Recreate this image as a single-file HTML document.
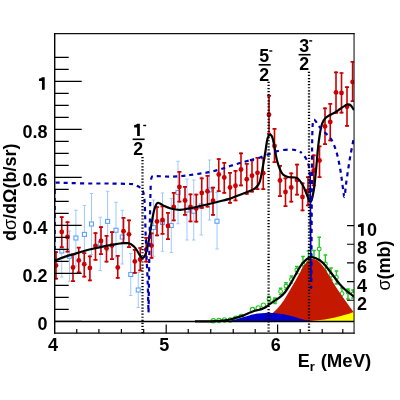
<!DOCTYPE html>
<html><head><meta charset="utf-8"><style>
html,body{margin:0;padding:0;background:#fff;}
svg{display:block;}
</style></head><body>
<div style="will-change:transform;width:400px;height:400px"><svg width="400" height="400" viewBox="0 0 400 400">
<rect width="400" height="400" fill="#fff"/>
<defs><clipPath id="c"><rect x="54.7" y="33.2" width="299.3" height="300.0"/></clipPath></defs>
<g clip-path="url(#c)">
<path d="M61.75 225V277M60.05 225h3.4M60.05 277h3.4M69.5 231V281.25M67.8 231h3.4M67.8 281.25h3.4M75.9 210.25V266M74.2 210.25h3.4M74.2 266h3.4M84.4 205.4V263.4M82.7 205.4h3.4M82.7 263.4h3.4M91.5 193.5V254.5M89.8 193.5h3.4M89.8 254.5h3.4M100.25 217.25V270.5M98.55 217.25h3.4M98.55 270.5h3.4M107.6 191.25V251M105.89999999999999 191.25h3.4M105.89999999999999 251h3.4M116 202.25V258M114.3 202.25h3.4M114.3 258h3.4M122.3 210.25V264M120.6 210.25h3.4M120.6 264h3.4M130.75 253.5V295.5M129.05 253.5h3.4M129.05 295.5h3.4M138.25 272.5V307.5M136.55 272.5h3.4M136.55 307.5h3.4M153.5 200V256.25M151.8 200h3.4M151.8 256.25h3.4M162.5 193V251.25M160.8 193h3.4M160.8 251.25h3.4M171.25 198.5V252.5M169.55 198.5h3.4M169.55 252.5h3.4M178 161.25V223.75M176.3 161.25h3.4M176.3 223.75h3.4M187 179V240M185.3 179h3.4M185.3 240h3.4M193.75 180V240M192.05 180h3.4M192.05 240h3.4M201.25 177V235M199.55 177h3.4M199.55 235h3.4M209.5 160V220M207.8 160h3.4M207.8 220h3.4M217 192.5V249M215.3 192.5h3.4M215.3 249h3.4" stroke="#9ccaff" stroke-width="1" fill="none"/>
<g fill="#fff" stroke="#5aa2ff" stroke-width="1.1"><rect x="59.75" y="249.00" width="4" height="4"/><rect x="67.50" y="254.25" width="4" height="4"/><rect x="73.90" y="236.00" width="4" height="4"/><rect x="82.40" y="232.40" width="4" height="4"/><rect x="89.50" y="222.00" width="4" height="4"/><rect x="98.25" y="241.50" width="4" height="4"/><rect x="105.60" y="219.40" width="4" height="4"/><rect x="114.00" y="228.25" width="4" height="4"/><rect x="120.30" y="235.00" width="4" height="4"/><rect x="128.75" y="272.50" width="4" height="4"/><rect x="136.25" y="288.00" width="4" height="4"/><rect x="151.50" y="225.50" width="4" height="4"/><rect x="160.50" y="220.50" width="4" height="4"/><rect x="169.25" y="223.50" width="4" height="4"/><rect x="176.00" y="190.50" width="4" height="4"/><rect x="185.00" y="208.00" width="4" height="4"/><rect x="191.75" y="209.25" width="4" height="4"/><rect x="199.25" y="204.00" width="4" height="4"/><rect x="207.50" y="188.00" width="4" height="4"/><rect x="215.00" y="219.25" width="4" height="4"/></g>
<path d="M56 251.25V279.5M61.75 216.25V248M67.5 221.25V252.5M73 253.75V282M78.75 246.9V273.1M84.25 252.25V277.5M89.9 255.6V281.25M95.5 232.25V260.6M101 226.25V255M106.5 235V262.5M112 231.25V260M117.75 255V278.75M123.5 217V243.75M129 219.6V248M134.8 249V273.7M140.2 247.2V271.2M146.2 237V262.5M151.5 232.5V258.7M157 206.25V236.25M162.5 205.5V234.6M168 212V240M173.75 192V221.25M179.4 171V202.5M185 186V215.6M190.5 193.5V222.2M196.25 193.75V222.5M201.75 177.5V208.75M207.5 175V207.5M213 186.75V215.75M218.75 158.25V192M224.25 162V193.75M230 172V203.75M235.5 170V201.25M241 152.5V186.25M246.75 163V194.75M252 159.5V192.5M257.5 157V190M263.25 157.5V190M269 95.1V134.3M274.5 128V163M280 165V197M285.5 177.5V207M291.25 172.5V202.5M297 163.75V195.5M302.5 182.5V211.25M308 176.25V206.25M313.75 154.5V186.25M319.5 145.5V178M325 107.6V145M330.25 103V141.25M336 71.6V113.6M341.5 72.2V113.5M347 86.4V126.7M352.6 61V102" stroke="#cc0000" stroke-width="1.6" fill="none"/>
<path d="M54 252.05h4M54 278.7h4M59.75 217.05h4M59.75 247.2h4M65.5 222.05h4M65.5 251.7h4M71 254.55h4M71 281.2h4M76.75 247.70000000000002h4M76.75 272.3h4M82.25 253.05h4M82.25 276.7h4M87.9 256.4h4M87.9 280.45h4M93.5 233.05h4M93.5 259.8h4M99 227.05h4M99 254.2h4M104.5 235.8h4M104.5 261.7h4M110 232.05h4M110 259.2h4M115.75 255.8h4M115.75 277.95h4M121.5 217.8h4M121.5 242.95h4M127 220.4h4M127 247.2h4M132.8 249.8h4M132.8 272.9h4M138.2 248.0h4M138.2 270.4h4M144.2 237.8h4M144.2 261.7h4M149.5 233.3h4M149.5 257.9h4M155 207.05h4M155 235.45h4M160.5 206.3h4M160.5 233.79999999999998h4M166 212.8h4M166 239.2h4M171.75 192.8h4M171.75 220.45h4M177.4 171.8h4M177.4 201.7h4M183 186.8h4M183 214.79999999999998h4M188.5 194.3h4M188.5 221.39999999999998h4M194.25 194.55h4M194.25 221.7h4M199.75 178.3h4M199.75 207.95h4M205.5 175.8h4M205.5 206.7h4M211 187.55h4M211 214.95h4M216.75 159.05h4M216.75 191.2h4M222.25 162.8h4M222.25 192.95h4M228 172.8h4M228 202.95h4M233.5 170.8h4M233.5 200.45h4M239 153.3h4M239 185.45h4M244.75 163.8h4M244.75 193.95h4M250 160.3h4M250 191.7h4M255.5 157.8h4M255.5 189.2h4M261.25 158.3h4M261.25 189.2h4M267 95.89999999999999h4M267 133.5h4M272.5 128.8h4M272.5 162.2h4M278 165.8h4M278 196.2h4M283.5 178.3h4M283.5 206.2h4M289.25 173.3h4M289.25 201.7h4M295 164.55h4M295 194.7h4M300.5 183.3h4M300.5 210.45h4M306 177.05h4M306 205.45h4M311.75 155.3h4M311.75 185.45h4M317.5 146.3h4M317.5 177.2h4M323 108.39999999999999h4M323 144.2h4M328.25 103.8h4M328.25 140.45h4M334 72.39999999999999h4M334 112.8h4M339.5 73.0h4M339.5 112.7h4M345 87.2h4M345 125.9h4M350.6 61.8h4M350.6 101.2h4" stroke="#cc0000" stroke-width="1.7" fill="none"/>
<g fill="#cc0000"><circle cx="56" cy="265.5" r="2.4"/><circle cx="61.75" cy="232" r="2.4"/><circle cx="67.5" cy="237" r="2.4"/><circle cx="73" cy="267.5" r="2.4"/><circle cx="78.75" cy="260.4" r="2.4"/><circle cx="84.25" cy="264.2" r="2.4"/><circle cx="89.9" cy="268" r="2.4"/><circle cx="95.5" cy="246" r="2.4"/><circle cx="101" cy="241" r="2.4"/><circle cx="106.5" cy="248.25" r="2.4"/><circle cx="112" cy="245.5" r="2.4"/><circle cx="117.75" cy="267.5" r="2.4"/><circle cx="123.5" cy="231.25" r="2.4"/><circle cx="129" cy="234.3" r="2.4"/><circle cx="134.8" cy="261.4" r="2.4"/><circle cx="140.2" cy="259.5" r="2.4"/><circle cx="146.2" cy="249.7" r="2.4"/><circle cx="151.5" cy="245.6" r="2.4"/><circle cx="157" cy="221.5" r="2.4"/><circle cx="162.5" cy="220" r="2.4"/><circle cx="168" cy="226" r="2.4"/><circle cx="173.75" cy="207" r="2.4"/><circle cx="179.4" cy="186.9" r="2.4"/><circle cx="185" cy="200.5" r="2.4"/><circle cx="190.5" cy="207" r="2.4"/><circle cx="196.25" cy="208.5" r="2.4"/><circle cx="201.75" cy="193" r="2.4"/><circle cx="207.5" cy="191.25" r="2.4"/><circle cx="213" cy="200.75" r="2.4"/><circle cx="218.75" cy="174.5" r="2.4"/><circle cx="224.25" cy="177.5" r="2.4"/><circle cx="230" cy="187.5" r="2.4"/><circle cx="235.5" cy="185.75" r="2.4"/><circle cx="241" cy="169.5" r="2.4"/><circle cx="246.75" cy="179.25" r="2.4"/><circle cx="252" cy="175.75" r="2.4"/><circle cx="257.5" cy="172.8" r="2.4"/><circle cx="263.25" cy="173.2" r="2.4"/><circle cx="269" cy="114.7" r="2.4"/><circle cx="274.5" cy="146" r="2.4"/><circle cx="280" cy="180.5" r="2.4"/><circle cx="285.5" cy="192" r="2.4"/><circle cx="291.25" cy="187.5" r="2.4"/><circle cx="297" cy="180" r="2.4"/><circle cx="302.5" cy="197" r="2.4"/><circle cx="308" cy="191" r="2.4"/><circle cx="313.75" cy="170.5" r="2.4"/><circle cx="319.5" cy="160.5" r="2.4"/><circle cx="325" cy="126.4" r="2.4"/><circle cx="330.25" cy="122" r="2.4"/><circle cx="336" cy="92.4" r="2.4"/><circle cx="341.5" cy="93" r="2.4"/><circle cx="347" cy="106.7" r="2.4"/><circle cx="352.6" cy="82" r="2.4"/></g>
<path d="M54.70 260.60C55.58 260.27 58.45 259.18 60.00 258.60C61.55 258.02 61.67 257.87 64.00 257.10C66.33 256.33 70.67 255.02 74.00 254.00C77.33 252.98 80.67 251.92 84.00 251.00C87.33 250.08 90.67 249.28 94.00 248.50C97.33 247.72 100.67 246.97 104.00 246.30C107.33 245.63 111.33 244.97 114.00 244.50C116.67 244.03 118.33 243.73 120.00 243.50C121.67 243.27 122.67 243.15 124.00 243.10C125.33 243.05 126.83 243.02 128.00 243.20C129.17 243.38 130.00 243.63 131.00 244.20C132.00 244.77 133.00 245.55 134.00 246.60C135.00 247.65 136.00 249.02 137.00 250.50C138.00 251.98 139.07 254.22 140.00 255.50C140.93 256.78 141.77 258.20 142.60 258.20C143.43 258.20 144.27 256.98 145.00 255.50C145.73 254.02 146.38 251.80 147.00 249.30C147.62 246.80 148.17 243.72 148.75 240.50C149.33 237.28 149.92 233.50 150.50 230.00C151.08 226.50 151.67 222.71 152.25 219.50C152.83 216.29 153.42 213.08 154.00 210.75C154.58 208.42 155.17 206.78 155.75 205.50C156.33 204.22 156.79 203.45 157.50 203.10C158.21 202.75 158.83 202.90 160.00 203.40C161.17 203.90 162.83 205.30 164.50 206.10C166.17 206.90 167.42 207.58 170.00 208.20C172.58 208.82 176.67 209.78 180.00 209.80C183.33 209.82 186.67 208.92 190.00 208.30C193.33 207.68 196.67 206.85 200.00 206.10C203.33 205.35 206.67 204.60 210.00 203.80C213.33 203.00 216.67 202.17 220.00 201.30C223.33 200.43 227.33 199.43 230.00 198.60C232.67 197.77 233.33 197.32 236.00 196.30C238.67 195.28 243.50 193.45 246.00 192.50C248.50 191.55 249.50 191.28 251.00 190.60C252.50 189.92 253.83 189.30 255.00 188.40C256.17 187.50 257.17 186.43 258.00 185.20C258.83 183.97 259.33 183.28 260.00 181.00C260.67 178.72 261.33 175.00 262.00 171.50C262.67 168.00 263.42 163.42 264.00 160.00C264.58 156.58 265.00 154.17 265.50 151.00C266.00 147.83 266.50 143.50 267.00 141.00C267.50 138.50 268.00 137.02 268.50 136.00C269.00 134.98 269.50 134.97 270.00 134.90C270.50 134.83 271.00 134.83 271.50 135.60C272.00 136.37 272.42 137.10 273.00 139.50C273.58 141.90 274.33 146.50 275.00 150.00C275.67 153.50 276.17 157.25 277.00 160.50C277.83 163.75 279.00 167.17 280.00 169.50C281.00 171.83 281.67 173.25 283.00 174.50C284.33 175.75 286.00 176.50 288.00 177.00C290.00 177.50 293.33 177.21 295.00 177.50C296.67 177.79 296.83 177.71 298.00 178.75C299.17 179.79 300.83 181.88 302.00 183.75C303.17 185.62 304.00 187.71 305.00 190.00C306.00 192.29 307.08 195.50 308.00 197.50C308.92 199.50 309.75 202.08 310.50 202.00C311.25 201.92 311.83 199.83 312.50 197.00C313.17 194.17 313.83 190.33 314.50 185.00C315.17 179.67 315.92 171.17 316.50 165.00C317.08 158.83 317.42 153.33 318.00 148.00C318.58 142.67 319.33 137.00 320.00 133.00C320.67 129.00 321.17 126.42 322.00 124.00C322.83 121.58 323.67 120.00 325.00 118.50C326.33 117.00 328.33 116.00 330.00 115.00C331.67 114.00 333.33 113.50 335.00 112.50C336.67 111.50 338.33 110.15 340.00 109.00C341.67 107.85 343.67 106.37 345.00 105.60C346.33 104.83 347.00 104.40 348.00 104.40C349.00 104.40 350.00 104.67 351.00 105.60C352.00 106.53 353.50 109.27 354.00 110.00" stroke="#000" stroke-width="2.2" fill="none" stroke-linejoin="round"/>
<path d="M269 296.5V301.5M267.2 296.5h3.6M267.2 301.5h3.6M275 298V303.5M273.2 298h3.6M273.2 303.5h3.6M280.6 288.2V294.6M278.8 288.2h3.6M278.8 294.6h3.6M286 282.8V289.2M284.2 282.8h3.6M284.2 289.2h3.6M291.4 276V283M289.59999999999997 276h3.6M289.59999999999997 283h3.6M296.8 266.5V273.5M295.0 266.5h3.6M295.0 273.5h3.6M303 256.5V270M301.2 256.5h3.6M301.2 270h3.6M308.5 251V270M306.7 251h3.6M306.7 270h3.6M314 250.5V270M312.2 250.5h3.6M312.2 270h3.6M319.2 237.2V260M317.4 237.2h3.6M317.4 260h3.6M325.4 255V271M323.59999999999997 255h3.6M323.59999999999997 271h3.6M331 268V280M329.2 268h3.6M329.2 280h3.6M336.4 271V284M334.59999999999997 271h3.6M334.59999999999997 284h3.6M342 288V299M340.2 288h3.6M340.2 299h3.6M348 289V299M346.2 289h3.6M346.2 299h3.6M353 290V298M351.2 290h3.6M351.2 298h3.6" stroke="#1ec81e" stroke-width="1.4" fill="none"/>
<g fill="#fff" stroke="#1ec81e" stroke-width="1.1"><circle cx="213.3" cy="320.8" r="2.2"/><circle cx="219" cy="320.5" r="2.2"/><circle cx="224.5" cy="320" r="2.2"/><circle cx="230.2" cy="320.1" r="2.2"/><circle cx="235.8" cy="318.2" r="2.2"/><circle cx="241.2" cy="316.4" r="2.2"/><circle cx="252.5" cy="309.6" r="2.2"/><circle cx="258.2" cy="308" r="2.2"/><circle cx="263.4" cy="305.2" r="2.2"/><circle cx="269" cy="299" r="1.9"/><circle cx="275" cy="300.5" r="1.9"/><circle cx="280.6" cy="291.4" r="1.9"/><circle cx="286" cy="286" r="1.9"/><circle cx="291.4" cy="279.5" r="1.9"/><circle cx="296.8" cy="270" r="1.9"/><circle cx="303" cy="264" r="1.9"/><circle cx="308.5" cy="263" r="1.9"/><circle cx="314" cy="263" r="1.9"/><circle cx="319.2" cy="249" r="1.9"/><circle cx="325.4" cy="264" r="1.9"/><circle cx="331" cy="275" r="1.9"/><circle cx="336.4" cy="277.4" r="1.9"/><circle cx="342" cy="293.6" r="1.9"/><circle cx="348" cy="292" r="1.9"/><circle cx="353" cy="294" r="1.9"/></g>
<path d="M272.00 313.50C272.67 312.92 274.67 311.33 276.00 310.00C277.33 308.67 278.50 307.42 280.00 305.50C281.50 303.58 283.33 301.08 285.00 298.50C286.67 295.92 288.33 292.83 290.00 290.00C291.67 287.17 293.33 284.42 295.00 281.50C296.67 278.58 298.50 275.17 300.00 272.50C301.50 269.83 302.67 267.42 304.00 265.50C305.33 263.58 306.83 262.05 308.00 261.00C309.17 259.95 310.00 259.48 311.00 259.20C312.00 258.92 312.83 259.00 314.00 259.30C315.17 259.60 316.67 260.05 318.00 261.00C319.33 261.95 320.67 263.42 322.00 265.00C323.33 266.58 324.67 268.50 326.00 270.50C327.33 272.50 328.50 274.50 330.00 277.00C331.50 279.50 333.33 282.83 335.00 285.50C336.67 288.17 338.33 290.53 340.00 293.00C341.67 295.47 343.33 297.93 345.00 300.30C346.67 302.67 348.50 305.17 350.00 307.20C351.50 309.23 353.33 311.62 354.00 312.50L354 321.3L272 321.3Z" fill="#c41800"/>
<path d="M226.00 321.40C227.00 321.22 229.67 320.83 232.00 320.30C234.33 319.77 237.00 319.05 240.00 318.20C243.00 317.35 247.00 315.97 250.00 315.20C253.00 314.43 255.50 313.98 258.00 313.60C260.50 313.22 262.67 313.02 265.00 312.90C267.33 312.78 269.50 312.75 272.00 312.90C274.50 313.05 277.50 313.45 280.00 313.80C282.50 314.15 284.50 314.47 287.00 315.00C289.50 315.53 292.50 316.30 295.00 317.00C297.50 317.70 299.83 318.60 302.00 319.20C304.17 319.80 306.33 320.23 308.00 320.60C309.67 320.97 311.33 321.27 312.00 321.40Z" fill="#0000c8"/>
<path d="M300.00 321.30C301.67 321.23 306.67 321.12 310.00 320.90C313.33 320.68 316.67 320.42 320.00 320.00C323.33 319.58 326.67 319.03 330.00 318.40C333.33 317.77 337.00 316.93 340.00 316.20C343.00 315.47 345.67 314.70 348.00 314.00C350.33 313.30 353.00 312.33 354.00 312.00L354 321.3Z" fill="#ffff00"/>
<path d="M55.60 182.60C55.92 182.60 55.10 182.53 57.50 182.60C59.90 182.67 64.58 182.85 70.00 183.00C75.42 183.15 83.33 183.42 90.00 183.50C96.67 183.58 103.33 183.42 110.00 183.50C116.67 183.58 126.00 183.83 130.00 184.00C134.00 184.17 132.67 184.12 134.00 184.50C135.33 184.88 136.83 185.63 138.00 186.30C139.17 186.97 140.08 187.38 141.00 188.50C141.92 189.62 142.87 190.25 143.50 193.00C144.13 195.75 144.47 198.83 144.80 205.00C145.13 211.17 145.22 221.67 145.50 230.00C145.78 238.33 146.12 245.83 146.50 255.00C146.88 264.17 147.48 275.92 147.80 285.00C148.12 294.08 148.27 305.42 148.40 309.50C148.53 313.58 148.52 313.58 148.60 309.50C148.68 305.42 148.78 294.08 148.90 285.00C149.02 275.92 149.17 264.17 149.30 255.00C149.43 245.83 149.53 239.17 149.70 230.00C149.87 220.83 150.12 207.83 150.30 200.00C150.48 192.17 150.72 185.83 150.80 183.00" stroke="#0000b4" stroke-width="2.2" stroke-dasharray="4.1 4.05" stroke-dashoffset="0" fill="none"/>
<path d="M150.80 183.00C150.90 182.17 151.03 179.17 151.40 178.00C151.77 176.83 152.07 176.32 153.00 176.00C153.93 175.68 154.17 176.00 157.00 176.10C159.83 176.20 165.83 176.62 170.00 176.60C174.17 176.58 178.67 176.27 182.00 176.00C185.33 175.73 187.00 175.40 190.00 175.00C193.00 174.60 196.67 174.10 200.00 173.60C203.33 173.10 206.67 172.70 210.00 172.00C213.33 171.30 216.67 170.40 220.00 169.40C223.33 168.40 226.67 167.07 230.00 166.00C233.33 164.93 236.67 163.97 240.00 163.00C243.33 162.03 248.33 160.67 250.00 160.20" stroke="#0000b4" stroke-width="2.2" stroke-dasharray="4.1 4.05" stroke-dashoffset="4.8" fill="none"/>
<path d="M250.00 160.20C251.67 159.75 256.67 158.57 260.00 157.50C263.33 156.43 266.67 154.92 270.00 153.75C273.33 152.58 276.67 151.21 280.00 150.50C283.33 149.79 287.50 149.58 290.00 149.50C292.50 149.42 293.33 149.67 295.00 150.00C296.67 150.33 299.17 151.25 300.00 151.50" stroke="#0000b4" stroke-width="2.2" stroke-dasharray="4.3 4.4" stroke-dashoffset="0" fill="none"/>
<path d="M300.00 151.50C300.50 152.00 302.00 153.33 303.00 154.50C304.00 155.67 305.12 156.92 306.00 158.50C306.88 160.08 307.70 161.75 308.30 164.00C308.90 166.25 309.27 167.67 309.60 172.00C309.93 176.33 310.12 180.33 310.30 190.00C310.48 199.67 310.58 214.75 310.70 230.00C310.82 245.25 310.90 272.92 311.00 281.50C311.10 290.08 311.20 290.08 311.30 281.50C311.40 272.92 311.50 246.92 311.60 230.00C311.70 213.08 311.80 195.00 311.90 180.00C312.00 165.00 312.05 149.50 312.20 140.00C312.35 130.50 312.50 126.40 312.80 123.00C313.10 119.60 313.38 119.72 314.00 119.60C314.62 119.48 315.67 121.18 316.50 122.30C317.33 123.42 317.65 124.63 319.00 126.30C320.35 127.97 322.53 130.10 324.60 132.30C326.67 134.50 329.50 136.47 331.40 139.50C333.30 142.53 334.68 146.42 336.00 150.50C337.32 154.58 338.38 159.50 339.30 164.00C340.22 168.50 340.83 173.00 341.50 177.50C342.17 182.00 342.85 187.80 343.30 191.00C343.75 194.20 343.92 196.20 344.20 196.70C344.48 197.20 344.70 196.07 345.00 194.00C345.30 191.93 345.45 188.55 346.00 184.30C346.55 180.05 347.55 173.38 348.30 168.50C349.05 163.62 349.55 160.25 350.50 155.00C351.45 149.75 353.42 140.00 354.00 137.00" stroke="#0000b4" stroke-width="2.2" stroke-dasharray="4.1 4.05" stroke-dashoffset="1.5" fill="none"/>
<path d="M55.0 250V186" stroke="#0000b4" stroke-width="1.6" stroke-dasharray="4 4" fill="none"/>
<path d="M310.2 175C310.5 200 310.8 240 311.0 281.5" stroke="#0000b4" stroke-width="1.6" fill="none"/>
<path d="M195.00 321.40C196.67 321.39 201.67 321.40 205.00 321.35C208.33 321.30 211.67 321.28 215.00 321.10C218.33 320.93 222.50 320.57 225.00 320.30C227.50 320.03 227.50 320.12 230.00 319.50C232.50 318.88 237.50 317.38 240.00 316.60C242.50 315.82 243.33 315.47 245.00 314.80C246.67 314.13 248.50 313.23 250.00 312.60C251.50 311.97 252.67 311.43 254.00 311.00C255.33 310.57 256.67 310.35 258.00 310.00C259.33 309.65 260.67 309.40 262.00 308.90C263.33 308.40 264.67 307.85 266.00 307.00C267.33 306.15 268.50 304.90 270.00 303.80C271.50 302.70 273.33 301.50 275.00 300.40C276.67 299.30 278.33 298.55 280.00 297.20C281.67 295.85 283.33 294.40 285.00 292.30C286.67 290.20 288.33 287.35 290.00 284.60C291.67 281.85 293.33 278.77 295.00 275.80C296.67 272.83 298.33 269.30 300.00 266.80C301.67 264.30 303.67 262.22 305.00 260.80C306.33 259.38 307.17 258.88 308.00 258.30C308.83 257.72 309.17 257.47 310.00 257.30C310.83 257.13 312.00 257.13 313.00 257.30C314.00 257.47 314.83 257.77 316.00 258.30C317.17 258.83 318.50 259.38 320.00 260.50C321.50 261.62 323.33 263.17 325.00 265.00C326.67 266.83 328.33 269.33 330.00 271.50C331.67 273.67 333.33 275.83 335.00 278.00C336.67 280.17 338.33 282.58 340.00 284.50C341.67 286.42 343.33 287.98 345.00 289.50C346.67 291.02 348.50 292.43 350.00 293.60C351.50 294.77 353.33 296.02 354.00 296.50" stroke="#000" stroke-width="2.2" fill="none"/>
</g>
<path d="M142.5 157V333 M268.6 81.8V333 M309.0 71.8V333 " stroke="#000" stroke-width="2.3" stroke-dasharray="1.2 1.87" fill="none"/>
<path d="M54.7 321.4H354.0" stroke="#000" stroke-width="1.5"/>
<path d="M54.050000000000004 33.6H354.5" stroke="#111" stroke-width="1.2" fill="none"/>
<path d="M354.05 33.0V333.8" stroke="#000" stroke-width="1.0" fill="none"/>
<path d="M54.7 33.0V333.8" stroke="#000" stroke-width="1.4" fill="none"/>
<path d="M54.0 333.2H354.6" stroke="#000" stroke-width="1.3" fill="none"/>
<path d="M54.7 321.30h27 M54.7 309.30h14 M54.7 297.30h14 M54.7 285.30h14 M54.7 273.30h27 M54.7 261.30h14 M54.7 249.30h14 M54.7 237.30h14 M54.7 225.30h27 M54.7 213.30h14 M54.7 201.30h14 M54.7 189.30h14 M54.7 177.30h27 M54.7 165.30h14 M54.7 153.30h14 M54.7 141.30h14 M54.7 129.30h27 M54.7 117.30h14 M54.7 105.30h14 M54.7 93.30h14 M54.7 81.30h27 M54.7 69.30h14 M54.7 57.30h14" stroke="#000" stroke-width="1.2" fill="none"/>
<path d="M76.75 333.2v-4.3 M98.90 333.2v-4.3 M121.40 333.2v-4.3 M143.70 333.2v-4.3 M166.20 333.2v-8.7 M188.25 333.2v-4.3 M210.75 333.2v-4.3 M233.25 333.2v-4.3 M255.20 333.2v-4.3 M277.60 333.2v-8.7 M300.20 333.2v-4.3 M322.20 333.2v-4.3 M342.80 333.2v-4.3" stroke="#000" stroke-width="1.2" fill="none"/>
<path d="M354.0 300.24h-7 M354.0 281.58h-7 M354.0 262.92h-7 M354.0 244.26h-7 M354.0 225.60h-7" stroke="#000" stroke-width="1.2" fill="none"/>
<g font-family="Liberation Sans, sans-serif" font-weight="bold" font-size="18" fill="#000"><text x="47.5" y="330.00" text-anchor="end">0</text><text x="47.5" y="282.00" text-anchor="end">0.2</text><text x="47.5" y="234.00" text-anchor="end">0.4</text><text x="47.5" y="186.00" text-anchor="end">0.6</text><text x="47.5" y="138.00" text-anchor="end">0.8</text><path transform="translate(37.99,89.80) scale(0.00879,-0.00879)" d="M450 0V1000H110V1270Q330 1290 470 1430H765V0Z"/><text x="52.90" y="351" text-anchor="middle">4</text><text x="164.30" y="351" text-anchor="middle">5</text><text x="275.70" y="351" text-anchor="middle">6</text><text x="357" y="310.44">2</text><text x="357" y="291.78">4</text><text x="357" y="273.12">6</text><text x="357" y="254.46">8</text><path transform="translate(357.00,235.80) scale(0.00879,-0.00879)" d="M450 0V1000H110V1270Q330 1290 470 1430H765V0Z"/><text x="367.01" y="235.80">0</text></g>
<text font-family="Liberation Sans, sans-serif" font-weight="bold" font-size="18" x="297.8" y="366.8">E<tspan font-size="13" dy="4">r</tspan><tspan dy="-4" font-size="18.6" dx="0.6"> (MeV)</tspan></text>
<text font-family="Liberation Sans, sans-serif" font-weight="bold" font-size="18" transform="translate(15.8,241) rotate(-90)">d<tspan font-weight="normal">σ</tspan>/dΩ(b/sr)</text>
<text font-family="Liberation Sans, sans-serif" font-weight="bold" font-size="18" transform="translate(390.2,290.5) rotate(-90)"><tspan font-weight="normal">σ</tspan>(mb)</text>
<g font-family="Liberation Sans, sans-serif" font-weight="bold" font-size="17.8" fill="#000"><path transform="translate(133.20,136.10) scale(0.00869,-0.00869)" d="M450 0V1000H110V1270Q330 1290 470 1430H765V0Z"/><rect x="143.2" y="124.80" width="3" height="1.4"/><rect x="132.6" y="138.50" width="12" height="1.6"/><text x="133.2" y="155.00">2</text><text x="259.3" y="61.60">5</text><rect x="269.3" y="50.30" width="3" height="1.4"/><rect x="258.7" y="64.00" width="12" height="1.6"/><text x="259.3" y="80.50">2</text><text x="299.2" y="51.50">3</text><rect x="309.2" y="40.20" width="3" height="1.4"/><rect x="298.59999999999997" y="53.90" width="12" height="1.6"/><text x="299.2" y="70.40">2</text></g>
</svg></div></body></html>
